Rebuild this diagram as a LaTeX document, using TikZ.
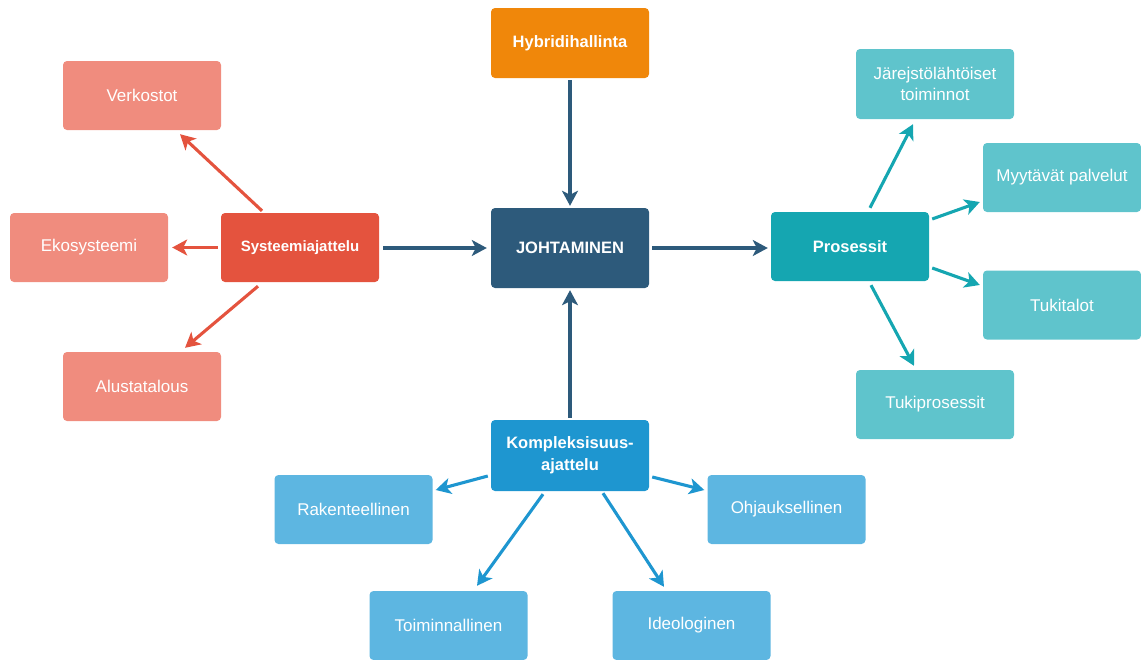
\documentclass[tikz,border=0pt]{standalone}
\usepackage{fontspec}
\setmainfont{Liberation Sans}
\usetikzlibrary{arrows.meta,calc}

% palette
\definecolor{salmon}{HTML}{F08C7E}
\definecolor{redmain}{HTML}{E4533E}
\definecolor{orangemain}{HTML}{F0870A}
\definecolor{navy}{HTML}{2D5A7B}
\definecolor{tealmain}{HTML}{15A6B1}
\definecolor{teallight}{HTML}{5FC4CC}
\definecolor{bluemain}{HTML}{1E96D0}
\definecolor{bluelight}{HTML}{5DB6E1}

\tikzset{
  box/.style={rectangle, rounded corners=4pt, minimum width=158pt, minimum height=69pt,
    inner sep=2pt, align=center, text=white,
    font=\fontsize{17}{21}\selectfont},
  hub/.style={box, font=\fontsize{16.5}{22}\selectfont\bfseries},
  ar/.style={line width=3.1pt, -{Stealth[length=15pt,width=16pt,inset=4pt]}},
}

\begin{document}
\begin{tikzpicture}[x=1pt,y=-1pt]
\useasboundingbox (0,0) rectangle (1141,659);

% centre and main branches
\node[hub, fill=navy, minimum height=80pt] (joh) at (570,248) {JOHTAMINEN};
\node[hub, fill=orangemain, minimum height=70pt] (hyb) at (570,43) {Hybridihallinta};
\node[hub, fill=redmain, font=\fontsize{15}{19}\selectfont\bfseries] (sys) at (300,247.5) {Systeemiajattelu};
\node[hub, fill=tealmain] (pros) at (850,246.5) {Prosessit};
\node[hub, fill=bluemain, minimum height=71pt] (komp) at (570,455.5) {Kompleksisuus-\\ajattelu};

% systems thinking leaves
\node[box, fill=salmon] (verk) at (142,95.5) {Verkostot};
\node[box, fill=salmon] (eko) at (89,247.5) {Ekosysteemi};
\node[box, fill=salmon] (alus) at (142,386.5) {Alustatalous};

% process leaves
\node[box, fill=teallight, minimum height=70pt] (jar) at (935,84) {Järejstölähtöiset\\toiminnot};
\node[box, fill=teallight] (myy) at (1062,177.5) {Myytävät palvelut};
\node[box, fill=teallight] (tuk) at (1062,305) {Tukitalot};
\node[box, fill=teallight] (tukip) at (935,404.5) {Tukiprosessit};

% complexity leaves
\node[box, fill=bluelight] (rak) at (353.5,509.5) {Rakenteellinen};
\node[box, fill=bluelight] (ohj) at (786.5,509.5) {Ohjauksellinen};
\node[box, fill=bluelight] (toim) at (448.5,625.5) {Toiminnallinen};
\node[box, fill=bluelight] (ideo) at (691.5,625.5) {Ideologinen};

% connectors into and out of the centre
\draw[ar, navy] ($(hyb.south)+(0,2)$) -- ($(joh.north)+(0,-2)$);
\draw[ar, navy] ($(sys.east)+(4,0.5)$) -- ($(joh.west)+(-4,0)$);
\draw[ar, navy] ($(joh.east)+(3,0)$) -- ($(pros.west |- joh.east)+(-3,0)$);
\draw[ar, navy] ($(komp.north)+(0,-2)$) -- ($(joh.south)+(0,2)$);

% systems thinking
\draw[ar, redmain] ($(sys.north)+(-38,-2)$) -- ($(verk.south)+(38,4)$);
\draw[ar, redmain] ($(sys.west)+(-3,0)$) -- ($(eko.east)+(4,0)$);
\draw[ar, redmain] ($(sys.south)+(-42,4)$) -- ($(alus.north)+(43,-4)$);

% processes
\draw[ar, tealmain] ($(pros.north)+(20,-4)$) -- ($(jar.south)+(-22,5)$);
\draw[ar, tealmain] ($(pros.east)+(3,-27.5)$) -- ($(myy.west)+(-3,24.5)$);
\draw[ar, tealmain] ($(pros.east)+(3,21.5)$) -- ($(tuk.west)+(-3,-20)$);
\draw[ar, tealmain] ($(pros.south)+(21,4)$) -- ($(tukip.north)+(-21,-4)$);

% complexity thinking
\draw[ar, bluemain] ($(komp.west)+(-3,20.5)$) -- ($(rak.east)+(3,-19.5)$);
\draw[ar, bluemain] ($(komp.east)+(3,21.5)$) -- ($(ohj.west)+(-3,-19.5)$);
\draw[ar, bluemain] ($(komp.south)+(-27,3)$) -- ($(toim.north)+(28.5,-5)$);
\draw[ar, bluemain] ($(komp.south)+(33,2)$) -- ($(ideo.north)+(-27.5,-4)$);
\end{tikzpicture}
\end{document}
